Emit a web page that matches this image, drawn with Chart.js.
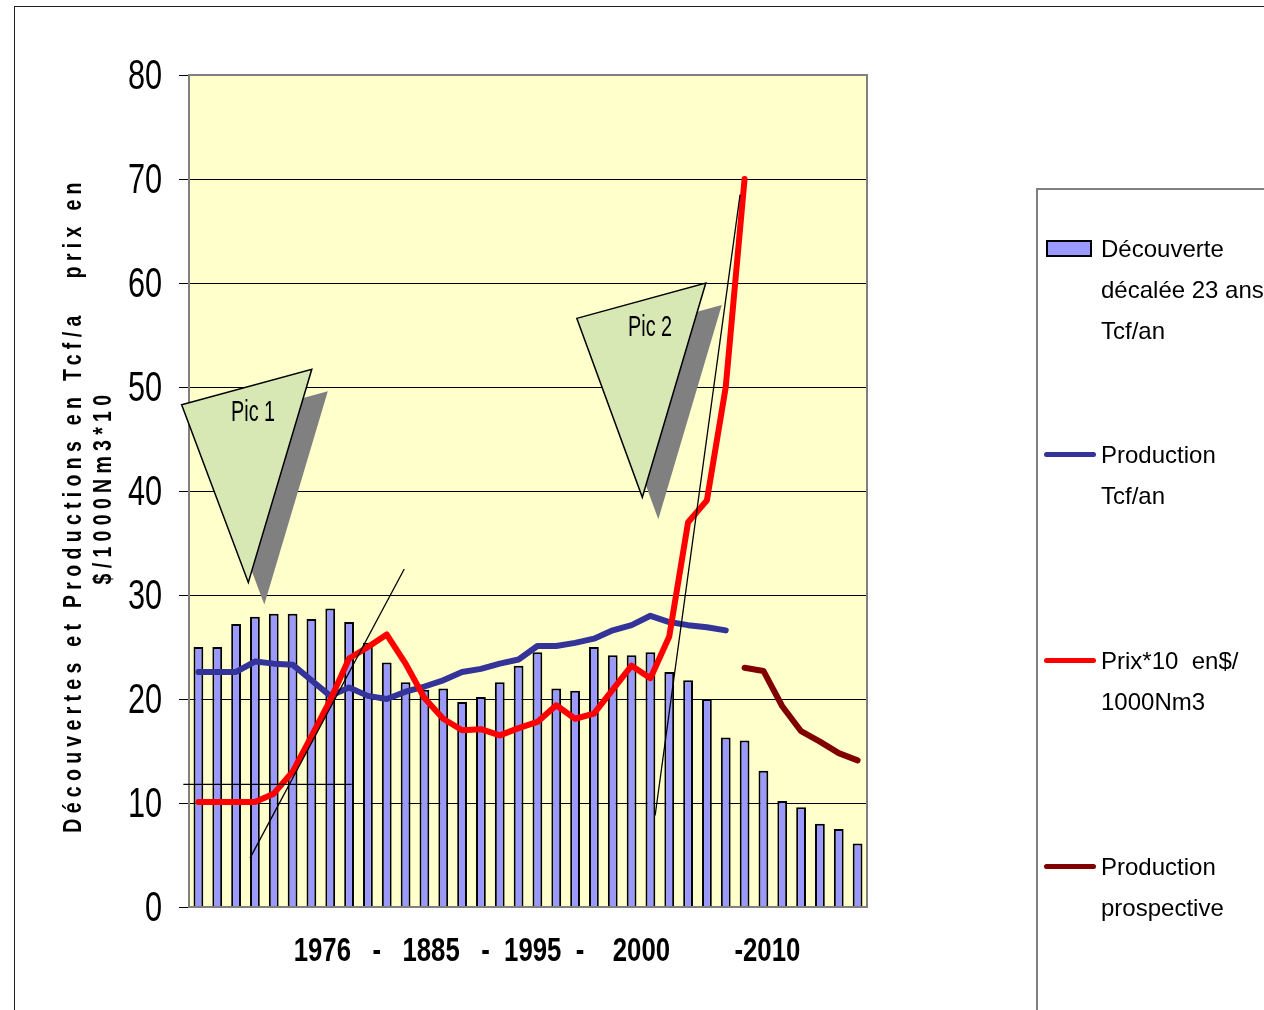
<!DOCTYPE html>
<html lang="fr">
<head>
<meta charset="utf-8">
<title>Découvertes et productions de gaz</title>
<script src="https://cdn.jsdelivr.net/npm/chart.js@4.4.1/dist/chart.umd.min.js"></script>
<style>
  html, body { margin: 0; padding: 0; background: #fff; overflow: hidden; }
  #wrap { position: relative; width: 1264px; height: 1010px; overflow: hidden; }
  #frame { position: absolute; left: 14px; top: 6px; width: 1300px; height: 1100px;
           border: 1px solid #222; box-sizing: border-box; }
  #energyChart { position: absolute; left: 0; top: 0; }
  #legendBox { position: absolute; left: 1036px; top: 188px; width: 320px; height: 900px;
               border: 2px solid #808080; box-sizing: border-box; padding-top: 38px;
               font-family: "Liberation Sans", Arial, sans-serif; font-size: 24px;
               line-height: 41px; color: #000; }
  .item { position: relative; height: 206px; }
  .item .txt { position: absolute; left: 63px; top: 0; white-space: pre; }
  .swatch-bar { position: absolute; left: 8px; top: 12px; width: 46px; height: 17px;
                box-sizing: border-box; border: 2px solid #000; }
  .swatch-line { position: absolute; left: 6px; top: 18px; width: 52px; height: 5px;
                 border-radius: 3px; }
</style>
</head>
<body>
<div id="wrap">
  <div id="frame"></div>
  <canvas id="energyChart" width="1264" height="1010"></canvas>
  <div id="legendBox"></div>
</div>
<script>
/* ===============================
   DATA
================================ */
const categories = ["1", "2", "3", "4", "5", "6", "7", "8", "9", "10", "11", "12",
  "13", "14", "15", "16", "17", "18", "19", "20", "21", "22", "23", "24",
  "25", "26", "27", "28", "29", "30", "31", "32", "33", "34", "35", "36"];

// Découverte décalée 23 ans (Tcf/an)
const decouverte = [25.0, 25.0, 27.2, 27.9, 28.2, 28.2, 27.7, 28.7, 27.4, 25.4, 23.5, 21.6,
  20.9, 21.0, 19.7, 20.2, 21.6, 23.2, 24.5, 21.0, 20.8, 25.0, 24.2, 24.2,
  24.5, 22.6, 21.8, 20.0, 16.3, 16.0, 13.1, 10.2, 9.6, 8.0, 7.5, 6.1];

// Production (Tcf/an)
const production = [22.6, 22.6, 22.6, 23.6, 23.4, 23.3, 21.8, 20.3, 21.1, 20.3, 20.0, 20.7,
  21.2, 21.8, 22.6, 22.9, 23.4, 23.8, 25.1, 25.1, 25.4, 25.8, 26.6, 27.1,
  28.0, 27.4, 27.1, 26.9, 26.6, null, null, null, null, null, null, null];

// Prix*10 en $/1000Nm3
const prix = [10.1, 10.1, 10.1, 10.1, 10.9, 13.0, 16.4, 19.9, 23.9, 25.0, 26.2, 23.4,
  20.1, 18.1, 17.0, 17.1, 16.5, 17.2, 17.8, 19.4, 18.1, 18.6, 20.9, 23.2,
  22.0, 26.0, 37.0, 39.1, 50.0, 70.0, null, null, null, null, null, null];

// Production prospective
const prospective = [null, null, null, null, null, null, null, null, null, null, null, null,
  null, null, null, null, null, null, null, null, null, null, null, null,
  null, null, null, null, null, 23.0, 22.7, 19.3, 16.9, 15.9, 14.8, 14.1];

const yTicks = [0, 10, 20, 30, 40, 50, 60, 70, 80];

const seriesLabels = [
  "Découverte\ndécalée 23 ans\nTcf/an",
  "Production\nTcf/an",
  "Prix*10  en$/\n1000Nm3",
  "Production\nprospective"
];

const xTitle = "1976   -   1885   -  1995  -    2000         -2010";
const yTitleLines = ["Découvertes et Productions en Tcf/a   prix en", "$/1000Nm3*10"];

// hand-drawn shapes, in (category index, value) units
const picLabels = ["Pic 1", "Pic 2"];
const picTriangles = [
  [[-0.89, 48.3], [6.02, 51.7], [2.65, 31.2]],
  [[20.09, 56.6], [26.94, 60.0], [23.57, 39.4]]
];
const picTextAt = [[2.9, 47.5], [23.98, 55.7]];
const trendLines = [
  [[2.74, 4.7], [10.93, 32.5]],
  [[-0.8, 11.8], [8.14, 11.8]],
  [[24.25, 8.8], [28.76, 68.5]]
];

/* ===============================
   STYLE
================================ */
const SANS = '"Liberation Sans", Arial, sans-serif';
const PLOT_BG = "#FFFFCC";
const PLOT_BORDER = "#808080";
const COLORS = ["#9999FF", "#333399", "#FF0000", "#800000"];

// text squeezed horizontally, like the narrow font of the original
function narrowText(ctx, txt, x, y, font, sx, align) {
  ctx.save();
  ctx.translate(x, y);
  ctx.scale(sx, 1);
  ctx.font = font;
  ctx.fillStyle = "#000";
  ctx.textAlign = align;
  ctx.textBaseline = "middle";
  ctx.fillText(txt, 0, 0);
  ctx.restore();
}

/* ===============================
   PLUGINS
================================ */
const plotFrame = {
  id: "plotFrame",
  beforeDraw(chart) {
    const { ctx, chartArea: a } = chart;
    ctx.save();
    ctx.fillStyle = PLOT_BG;
    ctx.fillRect(a.left, a.top, a.right - a.left, a.bottom - a.top);
    ctx.restore();
  },
  afterDatasetsDraw(chart) {
    const { ctx, chartArea: a } = chart;
    ctx.save();
    ctx.strokeStyle = PLOT_BORDER;
    ctx.lineWidth = 2;
    ctx.strokeRect(a.left, a.top, a.right - a.left, a.bottom - a.top);
    ctx.restore();
  }
};

const shapes = {
  id: "shapes",
  afterDatasetsDraw(chart) {
    const { ctx, scales: { x, y } } = chart;
    const px = p => [x.getPixelForValue(p[0]), y.getPixelForValue(p[1])];
    ctx.save();

    picTriangles.forEach((tri, k) => {
      const pts = tri.map(px);
      // shadow
      ctx.fillStyle = "#808080";
      ctx.beginPath();
      pts.forEach(([sx, sy], i) => i ? ctx.lineTo(sx + 16, sy + 22) : ctx.moveTo(sx + 16, sy + 22));
      ctx.closePath();
      ctx.fill();
      // triangle
      ctx.fillStyle = "#D7E8B5";
      ctx.strokeStyle = "#000";
      ctx.lineWidth = 1.5;
      ctx.beginPath();
      pts.forEach(([sx, sy], i) => i ? ctx.lineTo(sx, sy) : ctx.moveTo(sx, sy));
      ctx.closePath();
      ctx.fill();
      ctx.stroke();
      const [tx, ty] = px(picTextAt[k]);
      narrowText(ctx, picLabels[k], tx, ty, "30px " + SANS, 0.66, "center");
    });

    ctx.strokeStyle = "#000";
    ctx.lineWidth = 1.3;
    trendLines.forEach(seg => {
      const [a, b] = seg.map(px);
      ctx.beginPath();
      ctx.moveTo(a[0], a[1]);
      ctx.lineTo(b[0], b[1]);
      ctx.stroke();
    });
    ctx.restore();
  }
};

// tick labels, axis titles
const axisText = {
  id: "axisText",
  afterDraw(chart) {
    const { ctx, chartArea: a, scales: { y } } = chart;

    y.ticks.forEach(t => {
      narrowText(ctx, String(t.value), a.left - 27, y.getPixelForValue(t.value) + 2,
        "42px " + SANS, 0.73, "right");
    });

    narrowText(ctx, xTitle, (a.left + a.right) / 2 + 19, 952, "bold 33px " + SANS, 0.78, "center");

    const mid = (a.top + a.bottom) / 2;
    const rows = [[74, mid + 14], [104, mid - 4]];
    ctx.save();
    ctx.fillStyle = "#000";
    ctx.font = "bold 25px " + SANS;
    ctx.letterSpacing = "6.8px";
    ctx.textAlign = "center";
    ctx.textBaseline = "middle";
    yTitleLines.forEach((txt, i) => {
      ctx.save();
      ctx.translate(rows[i][0], rows[i][1]);
      ctx.rotate(-Math.PI / 2);
      ctx.scale(0.78, 1);
      ctx.fillText(txt, 0, 0);
      ctx.restore();
    });
    ctx.restore();
  }
};

/* ===============================
   CHART
================================ */
const lineSet = (label, data, color, order) => ({
  type: "line",
  label,
  data,
  borderColor: color,
  backgroundColor: color,
  borderWidth: 6,
  pointRadius: 0,
  tension: 0,
  fill: false,
  borderJoinStyle: "round",
  borderCapStyle: "round",
  order
});

const chart = new Chart(document.getElementById("energyChart"), {
  type: "bar",
  data: {
    labels: categories,
    datasets: [
      {
        type: "bar",
        label: seriesLabels[0],
        data: decouverte,
        backgroundColor: COLORS[0],
        borderColor: "#000",
        borderWidth: 2,
        barPercentage: 0.52,
        categoryPercentage: 1.0,
        order: 10
      },
      lineSet(seriesLabels[1], production, COLORS[1], 3),
      lineSet(seriesLabels[2], prix, COLORS[2], 1),
      lineSet(seriesLabels[3], prospective, COLORS[3], 2)
    ]
  },
  options: {
    responsive: false,
    animation: false,
    layout: { padding: { left: 0, top: 75, right: 397, bottom: 0 } },
    plugins: {
      legend: { display: false },
      tooltip: { enabled: false }
    },
    scales: {
      x: {
        grid: { display: false },
        border: { display: false },
        ticks: { display: false },
        afterFit(scale) { scale.height = 103; }
      },
      y: {
        min: 0,
        max: 80,
        afterBuildTicks(scale) { scale.ticks = yTicks.map(v => ({ value: v })); },
        grid: { color: "#000", lineWidth: 1, drawTicks: true, tickLength: 10 },
        border: { display: false },
        ticks: { display: false },
        afterFit(scale) { scale.width = 189; }
      }
    }
  },
  plugins: [plotFrame, shapes, axisText]
});

/* ===============================
   HTML LEGEND
================================ */
const legendBox = document.getElementById("legendBox");
chart.data.datasets.forEach(ds => {
  const item = document.createElement("div");
  item.className = "item";
  const sw = document.createElement("div");
  if (ds.type === "bar") {
    sw.className = "swatch-bar";
    sw.style.background = ds.backgroundColor;
  } else {
    sw.className = "swatch-line";
    sw.style.background = ds.borderColor;
  }
  const txt = document.createElement("div");
  txt.className = "txt";
  txt.textContent = ds.label;
  item.appendChild(sw);
  item.appendChild(txt);
  legendBox.appendChild(item);
});
</script>
</body>
</html>
